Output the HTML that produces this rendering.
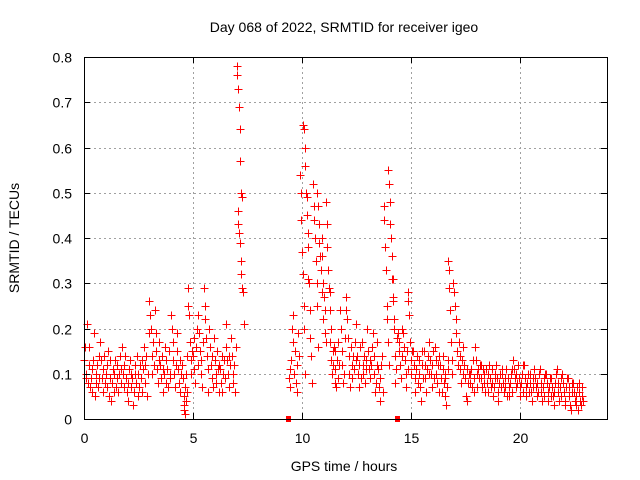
<!DOCTYPE html>
<html><head><meta charset="utf-8"><style>
html,body{margin:0;padding:0;background:#fff}
svg{display:block;font-family:"Liberation Sans",sans-serif}
</style></head><body>
<svg id="chart" width="640" height="480" viewBox="0 0 640 480" xmlns="http://www.w3.org/2000/svg">
<rect width="640" height="480" fill="#fff"/>
<text x="344" y="32" font-size="14" text-anchor="middle">Day 068 of 2022, SRMTID for receiver igeo</text>
<text x="344" y="471" font-size="14" text-anchor="middle">GPS time / hours</text>
<text transform="translate(19,238) rotate(-90)" font-size="14" text-anchor="middle">SRMTID / TECUs</text>
<g id="grid"></g><g id="marks"></g><g id="axes"></g>
</svg>
<script>
const xTicks=[0,5,10,15,20];
const yTicks=[0,0.1,0.2,0.3,0.4,0.5,0.6,0.7,0.8];
const yTickLabels=["0","0.1","0.2","0.3","0.4","0.5","0.6","0.7","0.8"];
const hours=[0,0.25,0.5,0.75,1,1.25,1.5,1.75,2,2.25,2.5,2.75,3,3.25,3.5,3.75,4,4.25,4.5,4.6,4.75,5,5.25,5.5,5.75,6,6.25,6.5,6.75,7.0,7.05,
9.4,9.65,9.9,10.05,10.25,10.5,10.7,10.9,11.1,11.3,11.5,11.75,12,12.25,12.5,12.75,13,13.25,13.5,13.75,13.95,14.15,14.4,14.65,14.85,15.1,15.35,15.6,15.85,16.1,16.35,16.55,16.7,16.95,17.2,17.45,17.7,17.95,18.2,18.45,18.7,18.95,19.2,19.45,19.7,19.95,20.2,20.45,20.7,20.95,21.2,21.45,21.7,21.95,22.2,22.45,22.7];
const srmtid=[
[.13,.16,.09,.1,.21,.08,.12],[.16,.07,.09,.11,.06,.13,.19],[.05,.08,.1,.12,.07,.14,.09],[.17,.13,.09,.06,.11,.14,.08],
[.1,.07,.12,.15,.05,.09,.13],[.04,.08,.11,.06,.1,.13,.07],[.09,.12,.06,.1,.14,.08,.11],[.16,.1,.07,.12,.14,.09,.06],
[.04,.08,.11,.13,.07,.1,.09],[.03,.06,.1,.12,.08,.14,.05],[.1,.07,.12,.09,.13,.06,.11],[.16,.12,.08,.14,.05,.1,.19],
[.26,.23,.2,.14,.1,.17,.12],[.24,.19,.15,.11,.08,.13,.17],[.12,.09,.14,.06,.11,.1,.16],[.13,.08,.11,.07,.15,.1,.09],
[.23,.2,.17,.13,.1,.07,.12],[.19,.15,.11,.08,.13,.06,.1],[.12,.09,.05,.03,.07,.1,.14],[.02,.01,.04,.06],
[.29,.25,.23,.17,.13,.1,.15],[.14,.18,.11,.08,.16,.2,.12],[.23,.19,.15,.1,.13,.07,.17],[.29,.25,.22,.18,.14,.11,.06],
[.2,.16,.12,.09,.14,.07,.18],[.13,.1,.08,.15,.11,.06,.12],[.11,.08,.14,.06,.1,.13,.09],[.21,.16,.13,.1,.07,.14,.12],
[.18,.14,.1,.08,.12,.06,.16],[.78,.76,.73,.69,.64,.57,.5,.49],[.46,.43,.41,.39,.35,.32,.29,.28,.21],
[.09,.07,.11,.13,.2,.23,.17],[.1,.15,.08,.12,.06,.19,.14],[.54,.5,.44,.37,.32,.25,.2,.1],[.65,.64,.6,.56,.5,.45,.38,.31],
[.49,.41,.3,.24,.18,.14,.08],[.52,.47,.44,.4,.35,.3,.25,.16],[.5,.47,.43,.39,.36,.33,.28,.22],[.4,.36,.3,.27,.24,.19,.17],
[.48,.43,.38,.33,.29,.28,.24,.2],[.17,.13,.1,.15,.12,.16,.08],[.15,.11,.07,.13,.09,.17,.12],[.24,.2,.15,.12,.08,.1,.18],
[.27,.24,.22,.18,.14,.1,.07],[.16,.12,.09,.14,.11,.17,.13],[.21,.14,.1,.07,.12,.16,.09],[.17,.12,.1,.14,.08,.11,.13],
[.2,.15,.11,.13,.09,.12,.16],[.19,.14,.1,.06,.08,.12,.17],[.11,.07,.04,.09,.12,.14,.06],[.47,.44,.38,.33,.25,.22,.17,.12],
[.55,.52,.48,.43,.4,.36,.31,.26,.22],[.31,.27,.2,.14,.08,.11,.18],[.19,.17,.15,.12,.09,.2,.14],[.19,.16,.13,.1,.07,.15,.11],
[.28,.26,.23,.17,.13,.1,.15],[.15,.12,.09,.06,.11,.14,.08],[.13,.1,.07,.04,.12,.15,.09],[.15,.12,.09,.06,.11,.14,.1],
[.17,.13,.1,.07,.12,.15,.09],[.16,.13,.1,.08,.12,.14,.06],[.12,.09,.06,.11,.14,.08,.1],[.09,.05,.03,.07,.11,.13],
[.35,.33,.29,.24,.17,.13,.1],[.3,.28,.25,.22,.19,.15,.12],[.17,.14,.11,.08,.13,.16,.1],[.12,.09,.05,.04,.11,.08,.1],
[.1,.08,.11,.07,.13,.09,.06],[.16,.13,.1,.07,.11,.09,.12],[.12,.09,.07,.11,.08,.1,.06],[.11,.08,.06,.1,.12,.09,.07],
[.11,.08,.05,.07,.1,.09,.12],[.09,.06,.04,.08,.1,.07,.11],[.1,.08,.06,.09,.07,.11,.05],[.09,.07,.05,.08,.1,.06,.11],
[.13,.11,.09,.07,.1,.08,.12],[.09,.07,.05,.08,.1,.06,.12],[.12,.09,.07,.05,.08,.1,.06],[.1,.08,.06,.04,.07,.09,.11],
[.09,.07,.05,.08,.06,.1,.11],[.08,.06,.04,.07,.09,.05,.1],[.1,.08,.06,.04,.07,.09,.05],[.09,.07,.05,.03,.06,.08,.1],
[.11,.08,.06,.04,.07,.09,.05],[.1,.08,.06,.04,.03,.07,.09],[.09,.07,.05,.03,.02,.06,.08],[.08,.06,.04,.03,.05,.07,.02],
[.08,.06,.04,.03,.05,.07,.04]];
const gapHours=[9.35,14.35];

const NS="http://www.w3.org/2000/svg";
const L=84,R=607,T=57,B=419,XMAX=24,YMAX=0.8;
const xs=h=>L+(R-L)*h/XMAX, ys=v=>B-(B-T)*v/YMAX;
function mk(tag,attrs,parent){const e=document.createElementNS(NS,tag);for(const k in attrs)e.setAttribute(k,attrs[k]);parent.appendChild(e);return e;}
const grid=document.getElementById('grid'),marks=document.getElementById('marks'),axes=document.getElementById('axes');
yTicks.forEach((v,i)=>{const y=Math.round(ys(v))+0.5;
 if(i>0&&i<yTicks.length-1){const g=mk('line',{x1:L,x2:R,y1:y,y2:y,stroke:'#a0a0a0','stroke-dasharray':'2,3'},grid);
 
 }
 mk('line',{x1:L,x2:L+6,y1:y,y2:y,stroke:'#000'},axes);mk('line',{x1:R-6,x2:R,y1:y,y2:y,stroke:'#000'},axes);
 const t=mk('text',{x:L-12,y:y+5,'font-size':14,'text-anchor':'end'},axes);t.textContent=yTickLabels[i];
 
 });
xTicks.forEach(h=>{const x=Math.round(xs(h))+0.5;
 if(h>0){const g=mk('line',{x1:x,x2:x,y1:T,y2:B,stroke:'#a0a0a0','stroke-dasharray':'2,3'},grid);
 
 }
 mk('line',{x1:x,x2:x,y1:B,y2:B-6,stroke:'#000'},axes);mk('line',{x1:x,x2:x,y1:T,y2:T+6,stroke:'#000'},axes);
 const t=mk('text',{x:x,y:B+24,'font-size':14,'text-anchor':'middle'},axes);t.textContent=String(h);
 
 });
const frame=mk('rect',{x:L+0.5,y:T+0.5,width:R-L,height:B-T,fill:'none',stroke:'#000'},axes);


let d='';
hours.forEach((h,i)=>{srmtid[i].forEach((v,k)=>{const x=Math.round(xs(h+k*0.035))+0.5,y=Math.round(ys(v))+0.5;
 d+=`M${x-4} ${y}h8M${x} ${y-4}v8`;});});
const p=mk('path',{d:d,stroke:'#ff0000','stroke-width':1.3,fill:'none','shape-rendering':'crispEdges'},marks);


gapHours.forEach(h=>{const r=mk('rect',{x:Math.round(xs(h))-2,y:B-3,width:5,height:6,fill:'#ff0000'},marks);
 
 });
</script>
</body></html>
